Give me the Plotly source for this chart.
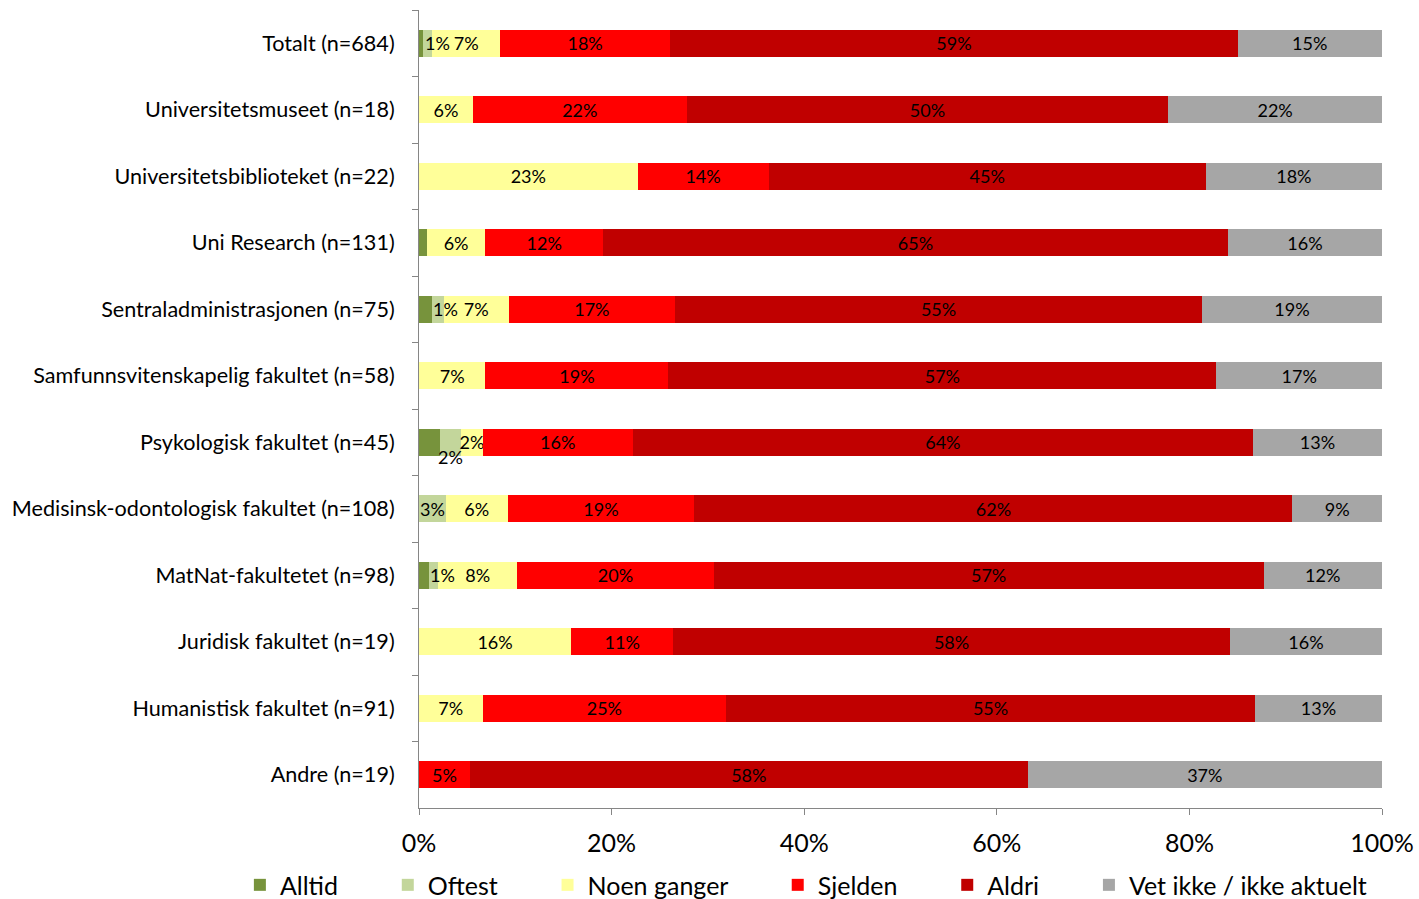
import plotly.graph_objects as go

categories = [
    "Totalt (n=684)",
    "Universitetsmuseet (n=18)",
    "Universitetsbiblioteket (n=22)",
    "Uni Research (n=131)",
    "Sentraladministrasjonen (n=75)",
    "Samfunnsvitenskapelig fakultet (n=58)",
    "Psykologisk fakultet (n=45)",
    "Medisinsk-odontologisk fakultet (n=108)",
    "MatNat-fakultetet (n=98)",
    "Juridisk fakultet (n=19)",
    "Humanistisk fakultet (n=91)",
    "Andre (n=19)",
]

alltid = [0.4, 0, 0, 0.8, 1.3, 0, 2.2, 0, 1.0, 0, 0, 0]
oftest = [1.0, 0, 0, 0, 1.3, 0, 2.2, 2.8, 1.0, 0, 0, 0]
noen_ganger = [7.0, 5.6, 22.7, 6.1, 6.7, 6.9, 2.2, 6.4, 8.2, 15.8, 6.6, 0]
sjelden = [17.7, 22.2, 13.6, 12.2, 17.3, 19.0, 15.6, 19.4, 20.4, 10.6, 25.3, 5.3]
aldri = [58.9, 50.0, 45.4, 64.9, 54.7, 56.9, 64.4, 62.1, 57.1, 57.8, 54.9, 57.9]
vet_ikke = [15.0, 22.2, 18.3, 16.0, 18.7, 17.2, 13.4, 9.3, 12.3, 15.8, 13.2, 36.8]

series_names = ["Alltid", "Oftest", "Noen ganger", "Sjelden", "Aldri", "Vet ikke / ikke aktuelt"]
series_values = [alltid, oftest, noen_ganger, sjelden, aldri, vet_ikke]
series_colors = ["#77933C", "#C3D69B", "#FFFF99", "#FF0000", "#C00000", "#A6A6A6"]
show_labels = [False, True, True, True, True, True]

x_ticks = [0, 20, 40, 60, 80, 100]
x_tick_labels = ["0%", "20%", "40%", "60%", "80%", "100%"]

# labels that Excel moved off-centre (series, category) -> (xshift px, yshift px)
label_shift = {
    ("Oftest", "Totalt (n=684)"): (10, 0),
    ("Oftest", "Sentraladministrasjonen (n=75)"): (8, 0),
    ("Oftest", "MatNat-fakultetet (n=98)"): (9, 0),
    ("Oftest", "Psykologisk fakultet (n=45)"): (0, -15),
}

FONT = "Lato"
legend_pad = "\u00a0" * 7

fig = go.Figure()
annotations = []
cum = [0.0] * len(categories)
for name, vals, col, lab in zip(series_names, series_values, series_colors, show_labels):
    texts = []
    for i, (c, v) in enumerate(zip(categories, vals)):
        t = f"{v:.0f}%" if (lab and v > 0) else ""
        if t and (name, c) in label_shift:
            dx, dy = label_shift[(name, c)]
            annotations.append(dict(
                x=cum[i] + v / 2, y=c, xref="x", yref="y", text=t, showarrow=False,
                xshift=dx, yshift=dy, font=dict(family=FONT, size=18, color="black"),
            ))
            t = ""
        texts.append(t)
        cum[i] += v
    fig.add_trace(go.Bar(
        y=categories, x=vals, orientation="h", name=name + legend_pad,
        marker=dict(color=col, line=dict(width=0)),
        text=texts, textposition="inside", insidetextanchor="middle",
        textangle=0, constraintext="none",
        textfont=dict(family=FONT, size=18, color="black"),
        hoverinfo="skip",
    ))

fig.update_layout(
    barmode="stack",
    bargap=0.6,
    width=1419, height=899,
    margin=dict(l=419, r=37, t=10, b=91, autoexpand=False),
    paper_bgcolor="white", plot_bgcolor="white",
    font=dict(family=FONT, size=22, color="black"),
    showlegend=True,
    legend=dict(
        orientation="h", x=-0.186, xanchor="left", y=-0.0966, yanchor="middle",
        font=dict(family=FONT, size=25, color="black"),
        traceorder="normal", itemclick=False,
    ),
    annotations=annotations,
)
fig.update_xaxes(
    range=[0, 100], tickvals=x_ticks, ticktext=x_tick_labels,
    showgrid=False, zeroline=False, showline=True, linecolor="#868686", linewidth=1,
    ticks="outside", ticklen=6, tickcolor="#868686", automargin=False,
    tickfont=dict(family=FONT, size=25), ticklabelstandoff=7,
)
fig.update_yaxes(
    autorange="reversed", showgrid=False, zeroline=False,
    showline=True, linecolor="#868686", linewidth=1,
    ticks="outside", ticklen=6, tickcolor="#868686", tickson="boundaries",
    automargin=False,
    tickfont=dict(family=FONT, size=21.6), ticklabelstandoff=19,
)

fig.write_html(
    "out.html",
    config={"displayModeBar": False},
    post_script="document.body.style.margin='0';document.body.style.overflow='hidden';",
)
